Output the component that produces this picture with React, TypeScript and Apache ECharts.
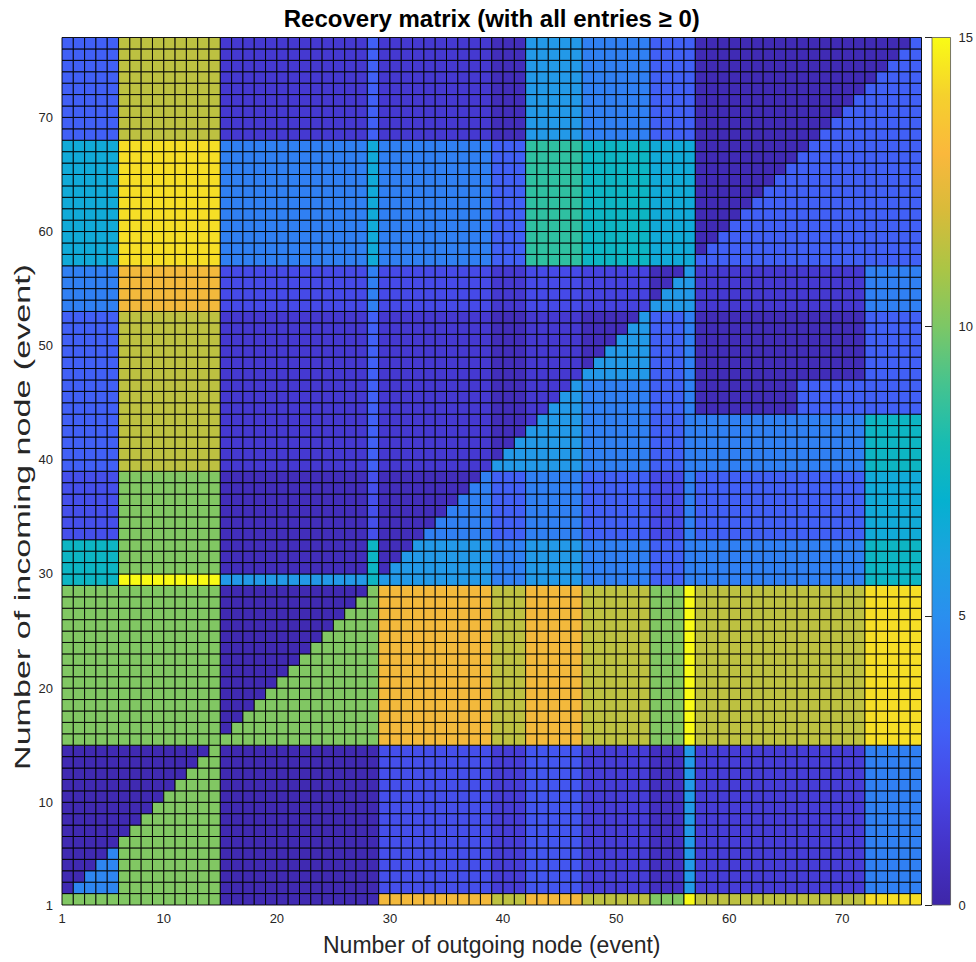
import React, { useEffect, useRef } from 'react';
import * as echarts from 'echarts';

const N = 76;
const xTicks = [1, 10, 20, 30, 40, 50, 60, 70];
const yTicks = [1, 10, 20, 30, 40, 50, 60, 70];
const colorbarTicks = [0, 5, 10, 15];
const titleText = 'Recovery matrix (with all entries \u2265 0)';
const xName = 'Number of outgoing node (event)';
const yName = 'Number of incoming node (event)';

// first node of each incoming-node (row) group
const rowGroupStart = [1, 2, 15, 29, 30, 33, 39, 44, 47, 53, 57, 68];
// first node of each outgoing-node (column) group
const colGroupStart = [1, 6, 15, 28, 29, 39, 42, 47, 53, 56, 57, 66, 72];

// values of cells with outgoing >= incoming
const upperVals = [
  [10.1, 10.1, 0.3, 0.3, 12.8, 11.4, 12.8, 11.4, 10.1, 15, 11.4, 11.4, 14.3],
  [4.6, 10.1, 0.3, 0.3, 2.3, 1.5, 2.6, 1.5, 0.8, 5.5, 1.5, 1.5, 4.3],
  [10.1, 10.1, 10.1, 10.1, 12.8, 11.4, 12.8, 11.4, 10.1, 15, 11.4, 11.4, 14.3],
  [7.4, 15, 5.5, 7.4, 5.5, 4.3, 5.5, 4.3, 3.0, 4.3, 4.3, 4.3, 7.4],
  [7.4, 10.1, 0.6, 7.4, 5.5, 4.3, 5.5, 4.3, 3.0, 4.3, 4.3, 4.3, 7.4],
  [2.3, 10.1, 0.6, 2.3, 4.3, 3.0, 4.3, 3.0, 2.1, 4.3, 3.0, 3.0, 6.5],
  [3.0, 11.4, 1.3, 3.0, 5.5, 5.5, 5.5, 4.3, 3.0, 4.3, 4.3, 4.3, 7.4],
  [3.0, 11.4, 1.3, 3.0, 5.5, 5.5, 5.5, 4.3, 3.0, 4.3, 0.5, 3.0, 3.0],
  [3.0, 11.4, 1.3, 3.0, 5.5, 5.5, 5.5, 5.5, 3.0, 4.3, 0.5, 0.5, 3.0],
  [4.3, 12.8, 2.1, 4.3, 2.1, 1.3, 2.1, 2.1, 5.5, 5.5, 1.3, 1.3, 4.3],
  [6.5, 14.3, 4.3, 6.5, 4.3, 3.0, 8.5, 7.4, 6.5, 6.5, 3.0, 3.0, 3.0],
  [3.0, 11.4, 1.3, 3.0, 1.3, 0.6, 5.5, 4.3, 3.0, 3.0, 3.0, 3.0, 3.0],
];
// values of cells with outgoing < incoming
const lowerVals = [
  [10.1, 10.1, 0.3, 0.3, 12.8, 11.4, 12.8, 11.4, 10.1, 15, 11.4, 11.4, 14.3],
  [0.3, 0.3, 0.3, 0.3, 2.3, 1.5, 2.6, 1.5, 0.8, 5.5, 1.5, 1.5, 4.3],
  [10.1, 10.1, 0.3, 0.3, 12.8, 11.4, 12.8, 11.4, 10.1, 15, 11.4, 11.4, 14.3],
  [7.4, 15, 5.5, 7.4, 5.5, 4.3, 5.5, 4.3, 3.0, 4.3, 4.3, 4.3, 7.4],
  [7.4, 10.1, 0.6, 7.4, 0.6, 4.3, 5.5, 4.3, 3.0, 4.3, 4.3, 4.3, 7.4],
  [2.3, 10.1, 0.6, 2.3, 0.6, 3.0, 4.3, 3.0, 2.1, 4.3, 3.0, 3.0, 6.5],
  [3.0, 11.4, 1.3, 3.0, 1.3, 0.6, 1.3, 4.3, 3.0, 4.3, 4.3, 4.3, 7.4],
  [3.0, 11.4, 1.3, 3.0, 1.3, 0.6, 1.3, 4.3, 3.0, 4.3, 0.5, 3.0, 3.0],
  [3.0, 11.4, 1.3, 3.0, 1.3, 0.6, 1.3, 0.6, 3.0, 4.3, 0.5, 0.5, 3.0],
  [4.3, 12.8, 2.1, 4.3, 2.1, 1.3, 2.1, 1.8, 0.6, 5.5, 1.3, 1.3, 4.3],
  [6.5, 14.3, 4.3, 6.5, 4.3, 3.0, 8.5, 7.4, 6.5, 6.5, 0.4, 0.4, 0.4],
  [3.0, 11.4, 1.3, 3.0, 1.3, 0.6, 5.5, 4.3, 3.0, 3.0, 0.4, 0.4, 0.4],
];

const parula = [
  '#3e26a8', '#4433c8', '#4747e6', '#4160f6', '#3379f4', '#2a8fef', '#1ca2e0', '#05b1cf',
  '#18bcb2', '#45c38f', '#7cc766', '#abc545', '#d8bb3a', '#fab83c', '#f5d12d', '#f9fb15',
];

function groupOf(i: number, starts: number[]) {
  let g = 0;
  for (let k = 0; k < starts.length; k++) if (i >= starts[k]) g = k;
  return g;
}

const cells: number[][] = [];
for (let r = 1; r <= N; r++) {
  const rg = groupOf(r, rowGroupStart);
  for (let c = 1; c <= N; c++) {
    const cg = groupOf(c, colGroupStart);
    const v = c >= r ? upperVals[rg][cg] : lowerVals[rg][cg];
    cells.push([c, r, v]);
  }
}

const FONT = '"Liberation Sans", Arial, Helvetica, sans-serif';

export default function App() {
  const ref = useRef<HTMLDivElement>(null);
  useEffect(() => {
    if (!ref.current) return;
    const chart = echarts.init(ref.current, null, { renderer: 'svg' });
    const gradStops = parula.map((col, i) => ({ offset: i / (parula.length - 1), color: col }));
    chart.setOption({
      animation: false,
      backgroundColor: '#ffffff',
      textStyle: { fontFamily: FONT },
      grid: [
        { left: 62, top: 37.5, width: 859.5, height: 867.5 },
        { left: 932, top: 37.5, width: 25, height: 867.5 },
      ],
      xAxis: [
        {
          type: 'value', gridIndex: 0, min: 1, max: N + 1,
          axisLine: { show: false },
          splitLine: { show: false },
          axisTick: { show: false, customValues: xTicks },
          axisLabel: { customValues: xTicks, fontSize: 13, color: '#262626', margin: 7, fontFamily: FONT },
        },
        { type: 'value', gridIndex: 1, min: 0, max: 1, show: false },
      ],
      yAxis: [
        {
          type: 'value', gridIndex: 0, min: 1, max: N + 1,
          axisLine: { show: false },
          splitLine: { show: false },
          axisTick: { show: false, customValues: yTicks },
          axisLabel: { customValues: yTicks, fontSize: 13, color: '#262626', margin: 9, fontFamily: FONT },
        },
        {
          type: 'value', gridIndex: 1, min: 0, max: 15, interval: 5, position: 'right',
          axisLine: { show: false },
          splitLine: { show: false },
          axisTick: { show: true, inside: true, length: 7, lineStyle: { color: '#262626', width: 1 } },
          axisLabel: { fontSize: 13, color: '#262626', margin: 8, fontFamily: FONT,
            customValues: colorbarTicks },
        },
      ],
      visualMap: {
        show: false, type: 'continuous', min: 0, max: 15, dimension: 2, seriesIndex: 0,
        inRange: { color: parula },
      },
      series: [
        {
          type: 'custom', xAxisIndex: 0, yAxisIndex: 0, progressive: 0,
          encode: { x: 0, y: 1 },
          data: cells,
          renderItem: (params: any, api: any) => {
            const c = api.value(0);
            const r = api.value(1);
            const p0 = api.coord([c, r + 1]);
            const p1 = api.coord([c + 1, r]);
            return {
              type: 'rect',
              shape: { x: p0[0], y: p0[1], width: p1[0] - p0[0], height: p1[1] - p0[1] },
              style: { fill: api.visual('color'), stroke: 'rgba(0,0,0,0.9)', lineWidth: 1 },
            };
          },
        },
        {
          type: 'custom', xAxisIndex: 1, yAxisIndex: 1,
          data: [[0, 0, 15]],
          renderItem: (params: any, api: any) => {
            const p0 = api.coord([0, api.value(2)]);
            const p1 = api.coord([1, api.value(1)]);
            return {
              type: 'rect',
              shape: { x: p0[0], y: p0[1], width: p1[0] - p0[0], height: p1[1] - p0[1] },
              style: {
                fill: new echarts.graphic.LinearGradient(0, 1, 0, 0, gradStops),
                stroke: '#555', lineWidth: 0.8,
              },
            };
          },
        },
      ],
      graphic: [
        {
          type: 'text', x: 491.75, y: 18,
          style: { text: titleText, textAlign: 'center', textVerticalAlign: 'middle',
            font: `bold 24px ${FONT}`, fill: '#000' },
        },
        {
          type: 'text', x: 491.75, y: 945,
          style: { text: xName, textAlign: 'center', textVerticalAlign: 'middle',
            font: `23px ${FONT}`, fill: '#262626' },
        },
        {
          type: 'text', x: 22, y: 517, rotation: Math.PI / 2, scaleX: 1.55,
          style: { text: yName, textAlign: 'center', textVerticalAlign: 'middle',
            font: `22px ${FONT}`, fill: '#262626' },
        },
      ],
    });
    return () => chart.dispose();
  }, []);
  return <div ref={ref} style={{ position: 'fixed', left: 0, top: 0, width: 976, height: 962 }} />;
}
